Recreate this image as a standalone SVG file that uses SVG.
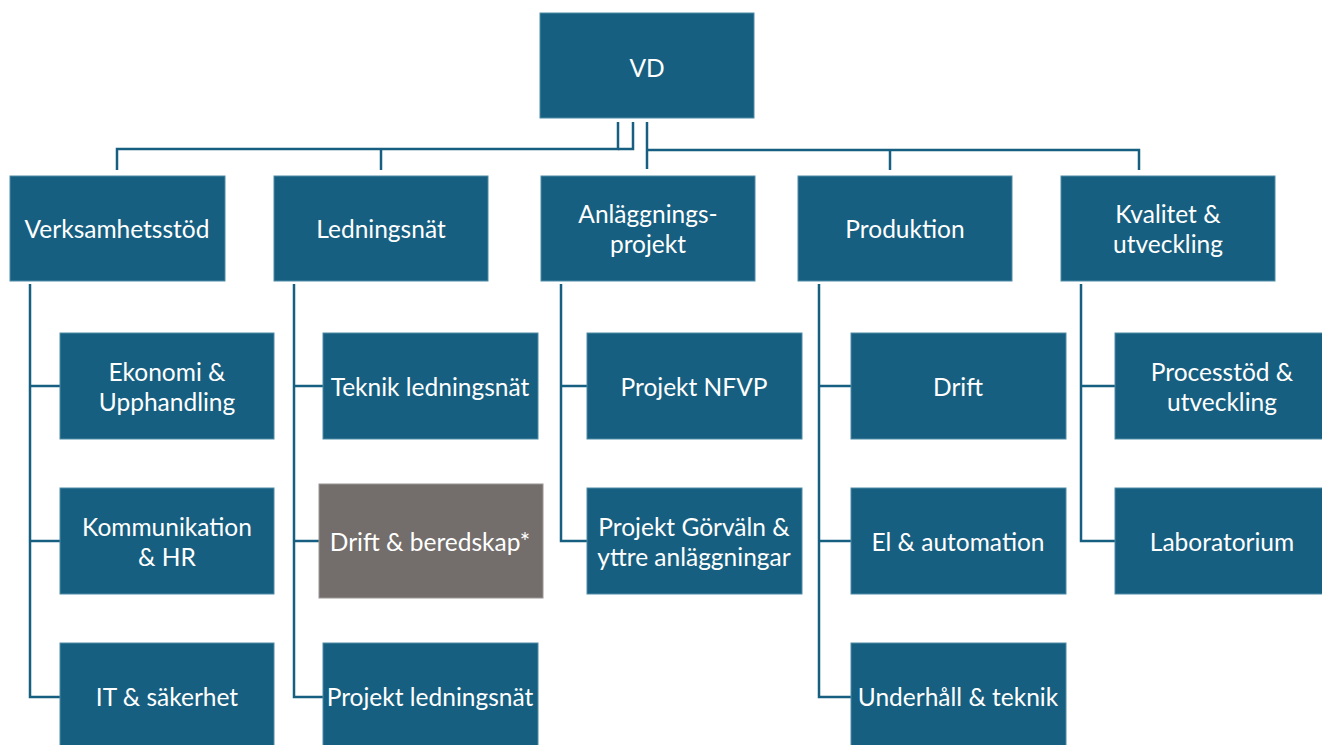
<svg xmlns="http://www.w3.org/2000/svg" width="1322" height="745" viewBox="0 0 1322 745">
<style>
.b{fill:#175F80;stroke:#4E8BA6;stroke-width:1}
.g{fill:#736E6C;stroke:#9A9694;stroke-width:1}
.t{fill:#FFFFFF;font-family:Lato,"Open Sans",sans-serif;font-size:24.5px;text-anchor:middle;dominant-baseline:central}
.c{fill:none;stroke:#175F80;stroke-width:2.5}
</style>
<rect width="1322" height="745" fill="#FFFFFF"/>
<g id="connectors" class="c">
<polyline points="618,122 618,149 117,149 117,170"/>
<polyline points="381,149 381,170"/>
<polyline points="633,122 633,149 618,149"/>
<polyline points="647,122 647,169"/>
<polyline points="647,150 1139,150 1139,170"/>
<polyline points="890,150 890,170"/>
<polyline points="30,284 30,697 60,697"/>
<polyline points="30,386 60,386"/>
<polyline points="30,541 60,541"/>
<polyline points="294,284 294,697 323,697"/>
<polyline points="294,386 323,386"/>
<polyline points="294,541 319,541"/>
<polyline points="561,284 561,541 587,541"/>
<polyline points="561,386 587,386"/>
<polyline points="819,284 819,697 851,697"/>
<polyline points="819,386 851,386"/>
<polyline points="819,541 851,541"/>
<polyline points="1081,284 1081,541 1115,541"/>
<polyline points="1081,386 1115,386"/>
</g>
<g id="vd"><rect class="b" x="540" y="13" width="214" height="105"/><text class="t" x="647" y="67">VD</text></g>
<g id="verksamhetsstod"><rect class="b" x="10" y="176" width="215" height="105"/><text class="t" x="117" y="228">Verksamhetsstöd</text></g>
<g id="ledningsnat"><rect class="b" x="274" y="176" width="214" height="105"/><text class="t" x="381" y="228">Ledningsnät</text></g>
<g id="anlaggningsprojekt"><rect class="b" x="541" y="176" width="214" height="105"/><text class="t" x="648" y="213">Anläggnings-</text><text class="t" x="648" y="243">projekt</text></g>
<g id="produktion"><rect class="b" x="798" y="176" width="214" height="105"/><text class="t" x="905" y="228">Produktion</text></g>
<g id="kvalitet"><rect class="b" x="1061" y="176" width="214" height="105"/><text class="t" x="1168" y="213">Kvalitet &amp;</text><text class="t" x="1168" y="243">utveckling</text></g>
<g id="ekonomi"><rect class="b" x="60" y="333" width="214" height="106"/><text class="t" x="167" y="371">Ekonomi &amp;</text><text class="t" x="167" y="401">Upphandling</text></g>
<g id="kommunikation"><rect class="b" x="60" y="488" width="214" height="106"/><text class="t" x="167" y="526">Kommunikation</text><text class="t" x="167" y="556">&amp; HR</text></g>
<g id="it"><rect class="b" x="60" y="643" width="214" height="106"/><text class="t" x="167" y="696">IT &amp; säkerhet</text></g>
<g id="teknik-ledningsnat"><rect class="b" x="323" y="333" width="215" height="106"/><text class="t" x="430" y="386">Teknik ledningsnät</text></g>
<g id="drift-beredskap"><rect class="g" x="319" y="484" width="224" height="114"/><text class="t" x="430" y="541">Drift &amp; beredskap*</text></g>
<g id="projekt-ledningsnat"><rect class="b" x="323" y="643" width="215" height="106"/><text class="t" x="430" y="696">Projekt ledningsnät</text></g>
<g id="projekt-nfvp"><rect class="b" x="587" y="333" width="215" height="106"/><text class="t" x="694" y="386">Projekt NFVP</text></g>
<g id="projekt-gorvaln"><rect class="b" x="587" y="488" width="215" height="106"/><text class="t" x="694" y="526">Projekt Görväln &amp;</text><text class="t" x="694" y="556">yttre anläggningar</text></g>
<g id="drift"><rect class="b" x="851" y="333" width="215" height="106"/><text class="t" x="958" y="386">Drift</text></g>
<g id="el-automation"><rect class="b" x="851" y="488" width="215" height="106"/><text class="t" x="958" y="541">El &amp; automation</text></g>
<g id="underhall"><rect class="b" x="851" y="643" width="215" height="106"/><text class="t" x="958" y="696">Underhåll &amp; teknik</text></g>
<g id="processtod"><rect class="b" x="1115" y="333" width="215" height="106"/><text class="t" x="1222" y="371">Processtöd &amp;</text><text class="t" x="1222" y="401">utveckling</text></g>
<g id="laboratorium"><rect class="b" x="1115" y="488" width="215" height="106"/><text class="t" x="1222" y="541">Laboratorium</text></g>
</svg>
